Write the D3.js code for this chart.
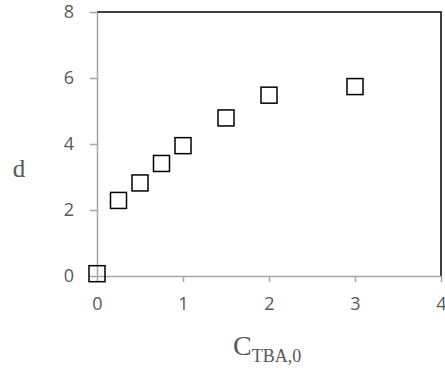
<!DOCTYPE html>
<html><head><meta charset="utf-8">
<script src="https://cdn.jsdelivr.net/npm/d3@7"></script>
<style>body{margin:0;background:#fff}</style>
</head><body>
<script>
const xValues = [0, 0.25, 0.5, 0.75, 1, 1.5, 2, 3];
const yValues = [0.07, 2.29, 2.82, 3.41, 3.95, 4.79, 5.48, 5.74];
const xTicks = [0, 1, 2, 3, 4];
const yTicks = [0, 2, 4, 6, 8];

const W = 445, H = 376;
const svg = d3.select("body").append("svg").attr("width", W).attr("height", H);
const x = d3.scaleLinear().domain([0, 4]).range([97, 441]);
const y = d3.scaleLinear().domain([0, 8]).range([276, 12]);
const axisColor = "#a6a6a6";
const textColor = "#595959";

// top and right border
svg.append("path").attr("d", `M${x(0)},${y(8)}H${x(4)}V${y(0)}`)
  .attr("fill", "none").attr("stroke", "#000").attr("stroke-width", 1.5);

const gx = svg.append("g").attr("transform", `translate(0,${y(0)})`)
  .call(d3.axisBottom(x).tickValues(xTicks).tickFormat(d3.format("d")).tickSize(6).tickPadding(15).tickSizeOuter(0));
const gy = svg.append("g").attr("transform", `translate(${x(0)},0)`)
  .call(d3.axisLeft(y).tickValues(yTicks).tickFormat(d3.format("d")).tickSize(7).tickPadding(16).tickSizeOuter(0));
[gx, gy].forEach(g => {
  g.select(".domain").attr("stroke", axisColor).attr("stroke-width", 1.5);
  g.selectAll(".tick line").attr("stroke", axisColor).attr("stroke-width", 1.5);
  g.selectAll(".tick text").attr("fill", textColor)
    .attr("font-family", "'Open Sans', sans-serif").attr("font-size", 18);
});

// markers
const s = 16;
svg.append("g").selectAll("rect").data(xValues).join("rect")
  .attr("x", (d) => x(d) - s / 2)
  .attr("y", (d, i) => y(yValues[i]) - s / 2)
  .attr("width", s).attr("height", s)
  .attr("fill", "none").attr("stroke", "#000").attr("stroke-width", 1.5);

// axis titles
svg.append("text").attr("x", 19).attr("y", 177).attr("text-anchor", "middle")
  .attr("font-family", "'Liberation Serif', 'Times New Roman', serif").attr("font-size", 25)
  .attr("fill", "#595959").text("d");
const t = svg.append("text").attr("x", 233).attr("y", 355).attr("text-anchor", "start")
  .attr("font-family", "'Liberation Serif', 'Times New Roman', serif").attr("fill", "#595959");
t.append("tspan").attr("font-size", 28).text("C");
t.append("tspan").attr("font-size", 18).attr("dy", 7).text("TBA,0");
</script>
</body></html>
